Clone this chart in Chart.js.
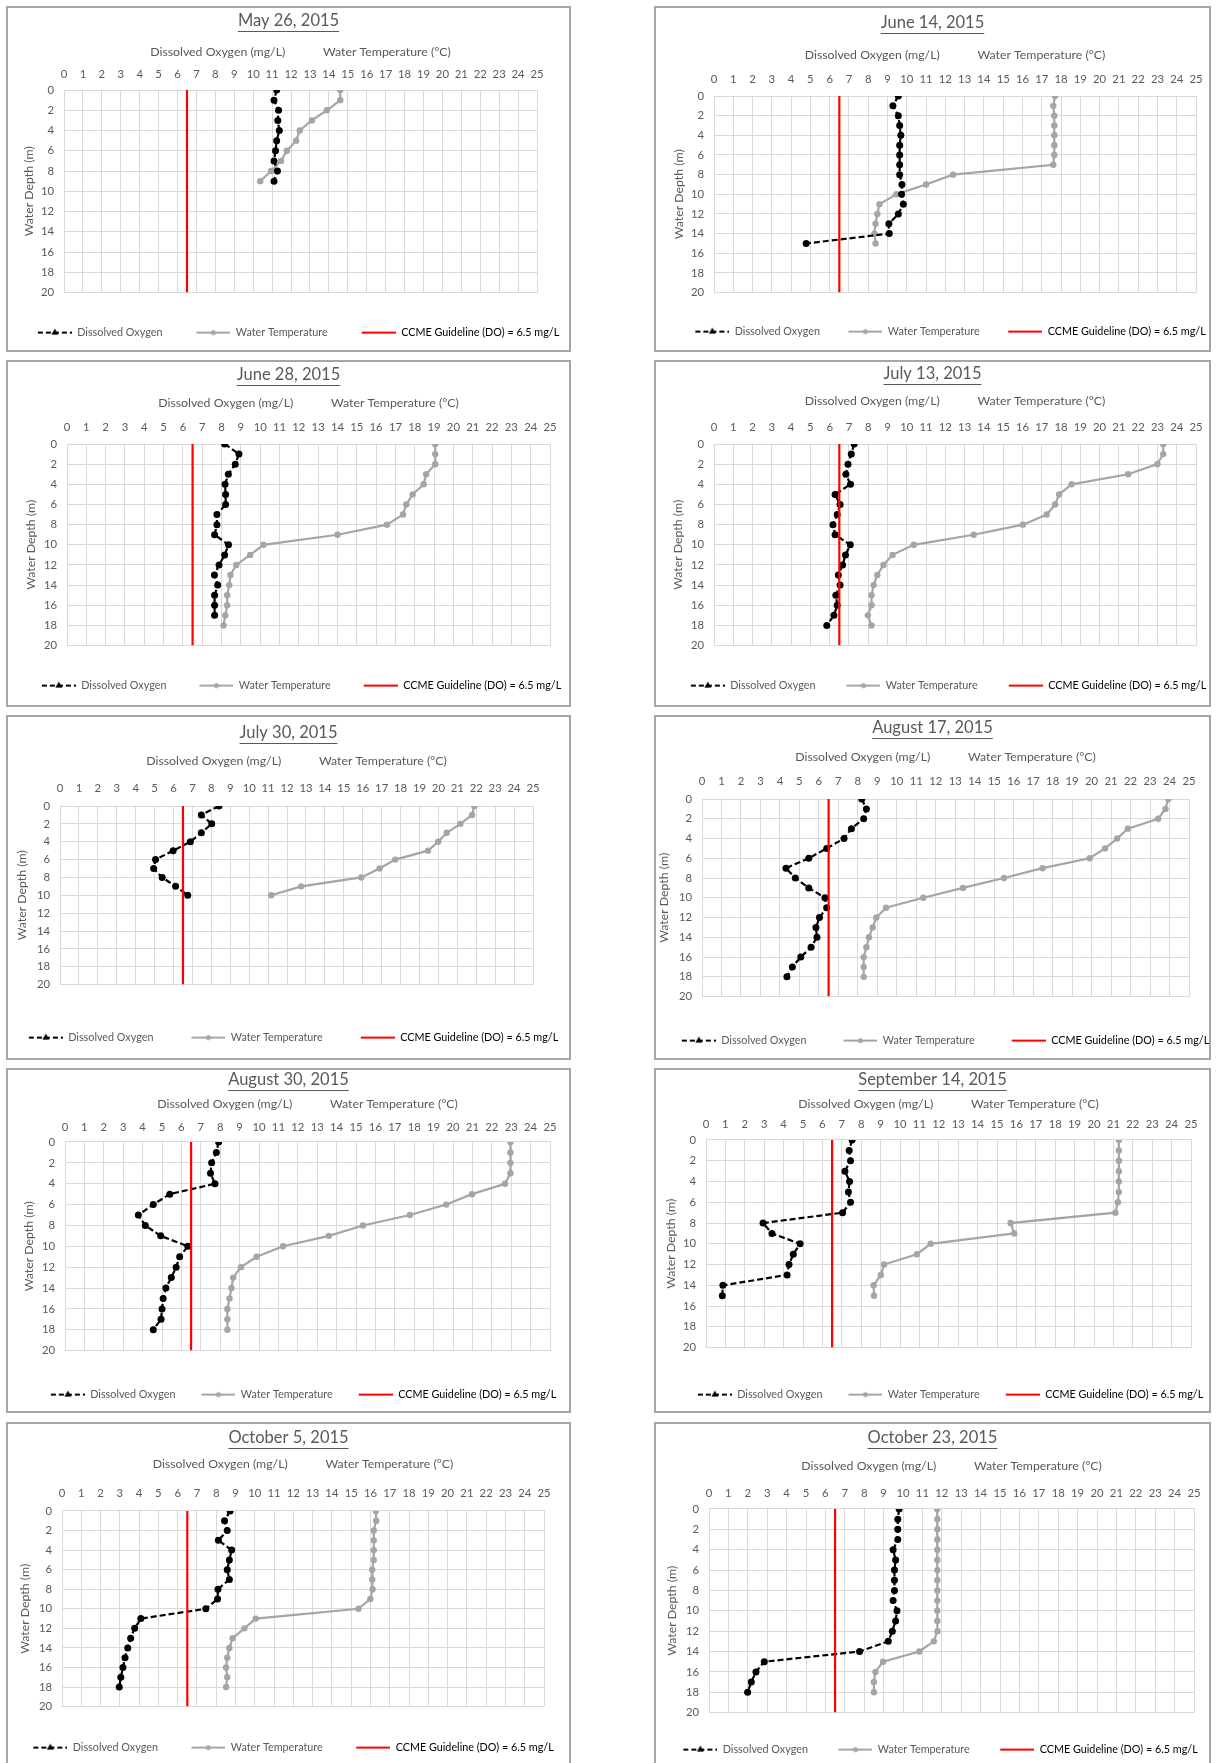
<!DOCTYPE html>
<html>
<head>
<meta charset="utf-8">
<script src="https://cdn.jsdelivr.net/npm/chart.js@4.4.1/dist/chart.umd.min.js"></script>
<style>
  html, body { margin: 0; padding: 0; background: #fff; overflow: hidden; }
  #page { position: relative; width: 1216px; height: 1763px; overflow: hidden; }
  .panel { position: absolute; border: 2px solid #a6a6a6; box-sizing: border-box; }
  canvas { position: absolute; }
</style>
</head>
<body>
<div id="page"></div>
<script>
// survey dates (one chart each)
const surveyDates = ['May 26, 2015', 'June 14, 2015', 'June 28, 2015', 'July 13, 2015', 'July 30, 2015',
  'August 17, 2015', 'August 30, 2015', 'September 14, 2015', 'October 5, 2015', 'October 23, 2015'];

const seriesNames = ['Dissolved Oxygen', 'Water Temperature', 'CCME Guideline (DO) = 6.5 mg/L'];
const ccmeGuideline = 6.5;
const depthRange = [0, 20];
const valueRange = [0, 25];

// depth (m) and readings
const may26Depth = [0, 1, 2, 3, 4, 5, 6, 7, 8, 9];
const may26DO = [11.24, 11.1, 11.34, 11.3, 11.38, 11.24, 11.18, 11.1, 11.28, 11.1];
const may26Temp = [14.6, 14.6, 13.9, 13.1, 12.46, 12.27, 11.78, 11.47, 10.95, 10.37];

const jun14Depth = [0, 1, 2, 3, 4, 5, 6, 7, 8, 9, 10, 11, 12, 13, 14, 15];
const jun14DO = [9.56, 9.28, 9.56, 9.63, 9.69, 9.63, 9.63, 9.63, 9.63, 9.75, 9.73, 9.82, 9.56, 9.07, 9.09, 4.78];
const jun14Temp = [17.69, 17.6, 17.65, 17.65, 17.65, 17.65, 17.65, 17.6, 12.4, 11.0, 9.46, 8.58, 8.47, 8.38, 8.32, 8.38];

const jun28Depth = [0, 1, 2, 3, 4, 5, 6, 7, 8, 9, 10, 11, 12, 13, 14, 15, 16, 17, 18];
const jun28DO = [8.16, 8.9, 8.71, 8.35, 8.18, 8.21, 8.21, 7.76, 7.76, 7.64, 8.36, 8.16, 7.87, 7.63, 7.8, 7.64, 7.64, 7.64];
const jun28Temp = [19.06, 19.06, 19.06, 18.59, 18.46, 17.89, 17.56, 17.39, 16.56, 14.0, 10.17, 9.48, 8.76, 8.46, 8.4, 8.29, 8.29, 8.19, 8.1];

const jul13Depth = [0, 1, 2, 3, 4, 5, 6, 7, 8, 9, 10, 11, 12, 13, 14, 15, 16, 17, 18];
const jul13DO = [7.27, 7.12, 6.95, 6.84, 7.08, 6.28, 6.54, 6.39, 6.17, 6.28, 7.07, 6.82, 6.67, 6.45, 6.54, 6.32, 6.39, 6.22, 5.85];
const jul13Temp = [23.3, 23.3, 23.0, 21.48, 18.55, 17.9, 17.69, 17.26, 16.02, 13.47, 10.36, 9.26, 8.79, 8.47, 8.28, 8.17, 8.17, 7.98, 8.17];

const jul30Depth = [0, 1, 2, 3, 4, 5, 6, 7, 8, 9, 10];
const jul30DO = [8.4, 7.47, 8.02, 7.47, 6.89, 5.98, 5.05, 4.95, 5.4, 6.11, 6.75];
const jul30Temp = [21.9, 21.78, 21.16, 20.44, 19.99, 19.45, 17.72, 16.89, 15.92, 12.75, 11.16];

const aug17Depth = [0, 1, 2, 3, 4, 5, 6, 7, 8, 9, 10, 11, 12, 13, 14, 15, 16, 17, 18];
const aug17DO = [8.2, 8.44, 8.3, 7.67, 7.29, 6.4, 5.48, 4.31, 4.79, 5.48, 6.31, 6.4, 6.03, 5.85, 5.9, 5.6, 5.07, 4.64, 4.36];
const aug17Temp = [23.94, 23.79, 23.42, 21.86, 21.31, 20.69, 19.9, 17.48, 15.5, 13.4, 11.36, 9.45, 8.95, 8.76, 8.57, 8.44, 8.3, 8.3, 8.3];

const aug30Depth = [0, 1, 2, 3, 4, 5, 6, 7, 8, 9, 10, 11, 12, 13, 14, 15, 16, 17, 18];
const aug30DO = [7.92, 7.8, 7.56, 7.5, 7.73, 5.4, 4.55, 3.78, 4.14, 4.93, 6.33, 5.91, 5.73, 5.48, 5.2, 5.06, 5.0, 4.95, 4.55];
const aug30Temp = [22.96, 22.96, 22.96, 22.96, 22.68, 20.98, 19.65, 17.78, 15.36, 13.6, 11.24, 9.88, 9.07, 8.67, 8.58, 8.48, 8.37, 8.37, 8.37];

const sep14Depth = [0, 1, 2, 3, 4, 5, 6, 7, 8, 9, 10, 11, 12, 13, 14, 15];
const sep14DO = [7.53, 7.38, 7.45, 7.16, 7.4, 7.34, 7.45, 7.04, 2.94, 3.4, 4.85, 4.5, 4.28, 4.18, 0.87, 0.84];
const sep14Temp = [21.28, 21.28, 21.28, 21.28, 21.28, 21.28, 21.23, 21.1, 15.7, 15.89, 11.58, 10.87, 9.18, 9.01, 8.64, 8.66];

const oct5Depth = [0, 1, 2, 3, 4, 5, 6, 7, 8, 9, 10, 11, 12, 13, 14, 15, 16, 17, 18];
const oct5DO = [8.72, 8.43, 8.57, 8.11, 8.8, 8.68, 8.57, 8.68, 8.09, 8.07, 7.46, 4.09, 3.77, 3.56, 3.41, 3.27, 3.16, 3.05, 2.97];
const oct5Temp = [16.28, 16.3, 16.17, 16.17, 16.17, 16.17, 16.09, 16.09, 16.11, 15.99, 15.38, 10.05, 9.46, 8.85, 8.68, 8.57, 8.51, 8.57, 8.51];

const oct23Depth = [0, 1, 2, 3, 4, 5, 6, 7, 8, 9, 10, 11, 12, 13, 14, 15, 16, 17, 18];
const oct23DO = [9.8, 9.73, 9.73, 9.73, 9.49, 9.62, 9.56, 9.56, 9.56, 9.49, 9.69, 9.62, 9.45, 9.24, 7.76, 2.85, 2.42, 2.18, 1.99];
const oct23Temp = [11.76, 11.77, 11.77, 11.77, 11.77, 11.77, 11.77, 11.77, 11.77, 11.77, 11.77, 11.77, 11.78, 11.59, 10.84, 8.97, 8.58, 8.5, 8.5];

// page layout (px): frame box, plot area [l,t,r,b], text centre lines, legend offset and spacing
const layout = [
  {box: [6, 6, 565, 346], plot: [64, 90, 537, 293], title: 21, axis: 52, ticks: 74, legend: 333, yTitle: 29, dx: 5, gap: 24},
  {box: [654, 6, 557, 346], plot: [714, 96, 1196, 293], title: 23, axis: 55, ticks: 79, legend: 332, yTitle: 679, dx: 13, gap: 18.5},
  {box: [6, 360, 565, 347], plot: [67, 444, 550, 646], title: 375, axis: 403, ticks: 427, legend: 686, yTitle: 31, dx: 8, gap: 23},
  {box: [654, 360, 557, 347], plot: [714, 444, 1196, 646], title: 374, axis: 401, ticks: 427, legend: 686, yTitle: 678, dx: 11, gap: 21},
  {box: [6, 715, 565, 345], plot: [60, 806, 533, 985], title: 733, axis: 761, ticks: 788, legend: 1038, yTitle: 22, dx: 0, gap: 28},
  {box: [654, 715, 557, 345], plot: [702, 799, 1189, 997], title: 728, axis: 757, ticks: 781, legend: 1041, yTitle: 664, dx: 8, gap: 27},
  {box: [6, 1068, 565, 345], plot: [65, 1142, 550, 1351], title: 1080, axis: 1104, ticks: 1127, legend: 1395, yTitle: 29, dx: 10, gap: 16},
  {box: [654, 1068, 557, 345], plot: [706, 1140, 1191, 1348], title: 1080, axis: 1104, ticks: 1124, legend: 1395, yTitle: 671, dx: 13, gap: 16},
  {box: [6, 1422, 565, 360], plot: [62, 1511, 544, 1707], title: 1438, axis: 1464, ticks: 1493, legend: 1748, yTitle: 25, dx: 0, gap: 23.5},
  {box: [654, 1422, 557, 360], plot: [709, 1509, 1194, 1713], title: 1438, axis: 1466, ticks: 1493, legend: 1750, yTitle: 672, dx: 3, gap: 20.5}
];

const profiles = [
  [may26Depth, may26DO, may26Temp], [jun14Depth, jun14DO, jun14Temp], [jun28Depth, jun28DO, jun28Temp],
  [jul13Depth, jul13DO, jul13Temp], [jul30Depth, jul30DO, jul30Temp], [aug17Depth, aug17DO, aug17Temp],
  [aug30Depth, aug30DO, aug30Temp], [sep14Depth, sep14DO, sep14Temp], [oct5Depth, oct5DO, oct5Temp],
  [oct23Depth, oct23DO, oct23Temp]
];

const FONT = "Lato, 'Open Sans', sans-serif";
const TEXT = '#595959';
const GRID = '#d9d9d9';
const GREY = '#a5a5a5';
const titleSize = 16.5, axisSize = 12.3, tickSize = 11.3, legendSize = 10.8;
const EXTRA = 30;      // canvas overhang each side, so the legend never wraps
const ICON_PAD = 10;   // extra blank space left of each legend sample
const ICON_W = 34;

Chart.defaults.font.family = FONT;
Chart.defaults.color = TEXT;

function legendIcon(color, dash, r, shape) {
  const c = document.createElement('canvas');
  c.width = ICON_W + ICON_PAD; c.height = 10;
  const g = c.getContext('2d');
  g.strokeStyle = color; g.lineWidth = 2;
  g.setLineDash(dash);
  g.beginPath(); g.moveTo(ICON_PAD, 5); g.lineTo(ICON_PAD + ICON_W, 5); g.stroke();
  const mx = ICON_PAD + ICON_W / 2;
  g.fillStyle = color;
  if (shape === 'tri') {
    g.beginPath(); g.moveTo(mx, 5 - r - 0.5); g.lineTo(mx + r, 5 + r * 0.6); g.lineTo(mx - r, 5 + r * 0.6); g.closePath(); g.fill();
  } else if (r) {
    g.beginPath(); g.arc(mx, 5, r, 0, Math.PI * 2); g.fill();
  }
  return c;
}
const icons = [legendIcon('#000', [5, 3], 3.5, 'tri'), legendIcon(GREY, [], 2.5), legendIcon('#ff0000', [], 0)];

const panelDecor = {
  id: 'panelDecor',
  afterLayout(chart, args, opts) {
    chart.legend.left += opts.dx;
    chart.legend.right += opts.dx;
  },
  afterDraw(chart, args, opts) {
    const ctx = chart.ctx, tb = chart.titleBlock;
    ctx.save();
    ctx.font = titleSize + 'px ' + FONT;
    const w = ctx.measureText(opts.text).width;
    const cx = (tb.left + tb.right) / 2;
    ctx.strokeStyle = TEXT; ctx.lineWidth = 1;
    ctx.beginPath();
    ctx.moveTo(cx - w / 2, Math.round(opts.y) + 0.5);
    ctx.lineTo(cx + w / 2, Math.round(opts.y) + 0.5);
    ctx.stroke();
    ctx.restore();
  }
};

const page = document.getElementById('page');

layout.forEach((g, i) => {
  const [depth, dox, temp] = profiles[i];
  const frame = document.createElement('div');
  frame.className = 'panel';
  Object.assign(frame.style, {left: g.box[0] + 'px', top: g.box[1] + 'px', width: g.box[2] + 'px', height: g.box[3] + 'px'});
  page.appendChild(frame);

  const cx = g.box[0] - EXTRA, cy = g.box[1], cw = g.box[2] + 2 * EXTRA;
  const tLH = titleSize * 1.2;
  const titlePad = g.title - cy - tLH / 2;
  const scaleTop = g.title + tLH / 2;
  const xH = g.plot[1] - scaleTop;
  const axisPad = g.axis - scaleTop - axisSize * 1.2 / 2;
  const tickPad = g.plot[1] - g.ticks - tickSize * 1.2 / 2;
  const legTitleH = Math.max(1.2, g.legend - g.plot[3] - g.gap - legendSize / 2);
  const legH = legTitleH + legendSize + g.gap + 10;
  const ch = Math.round(g.plot[3] - cy + legH);
  const yW = g.plot[0] - cx;
  const rW = cx + cw - g.plot[2];
  const yTitlePad = g.yTitle - cx - axisSize * 1.2 / 2;

  const canvas = document.createElement('canvas');
  canvas.width = cw; canvas.height = ch;
  canvas.style.left = cx + 'px'; canvas.style.top = cy + 'px';
  canvas.style.width = cw + 'px'; canvas.style.height = ch + 'px';
  page.appendChild(canvas);

  new Chart(canvas, {
    type: 'scatter',
    data: {
      datasets: [
        {
          label: seriesNames[0],
          data: dox.map((v, k) => ({x: v, y: depth[k]})),
          showLine: true, borderColor: '#000', backgroundColor: '#000', borderWidth: 2.2, borderDash: [6, 3],
          pointRadius: 3.5, pointBorderWidth: 0, pointBackgroundColor: '#000', order: 1
        },
        {
          label: seriesNames[1],
          data: temp.map((v, k) => ({x: v, y: depth[k]})),
          showLine: true, borderColor: GREY, backgroundColor: GREY, borderWidth: 2.2,
          pointRadius: 3.2, pointBorderWidth: 0, pointBackgroundColor: GREY, order: 2
        },
        {
          label: seriesNames[2],
          data: depthRange.map(d => ({x: ccmeGuideline, y: d})),
          showLine: true, borderColor: '#ff0000', borderWidth: 2.2, pointRadius: 0, order: 0
        }
      ]
    },
    options: {
      responsive: false,
      animation: false,
      devicePixelRatio: 1,
      events: [],
      layout: {padding: 0, autoPadding: false},
      scales: {
        x: {
          type: 'linear', position: 'top', min: valueRange[0], max: valueRange[1],
          ticks: {stepSize: 1, autoSkip: false, maxRotation: 0, padding: tickPad, font: {size: tickSize}, color: TEXT},
          grid: {color: GRID, drawTicks: false},
          border: {color: GRID},
          title: {display: true, text: 'Dissolved Oxygen (mg/L)            Water Temperature (°C)',
                  font: {size: axisSize}, color: TEXT, padding: {top: axisPad, bottom: 0}},
          afterFit(s) { s.height = xH; }
        },
        y: {
          type: 'linear', position: 'left', reverse: true, min: depthRange[0], max: depthRange[1],
          ticks: {stepSize: 2, padding: 10, font: {size: tickSize}, color: TEXT},
          grid: {color: GRID, drawTicks: false},
          border: {color: GRID},
          title: {display: true, text: 'Water Depth (m)', font: {size: axisSize}, color: TEXT,
                  padding: {top: yTitlePad, bottom: 0}},
          afterFit(s) { s.width = yW; }
        },
        yRight: {
          position: 'right', display: true,
          ticks: {display: false}, grid: {display: false, drawTicks: false}, border: {display: false},
          afterFit(s) { s.width = rW; }
        }
      },
      plugins: {
        title: {display: true, text: surveyDates[i], color: TEXT,
                font: {size: titleSize, weight: 'normal'}, padding: {top: titlePad, bottom: 0}},
        legend: {
          position: 'bottom',
          title: {display: true, text: '', font: {size: 1}, padding: {top: legTitleH - 1.2, bottom: 0}},
          labels: {
            usePointStyle: true, pointStyleWidth: ICON_W + ICON_PAD, padding: g.gap,
            font: {size: legendSize}, color: TEXT,
            generateLabels: () => seriesNames.map((t, k) => ({
              text: t, pointStyle: icons[k], fillStyle: 'rgba(0,0,0,0)', strokeStyle: 'rgba(0,0,0,0)',
              lineWidth: 0, hidden: false, datasetIndex: k, fontColor: k === 2 ? '#000' : TEXT
            }))
          }
        },
        tooltip: {enabled: false},
        panelDecor: {dx: g.dx, text: surveyDates[i], y: g.title - cy + titleSize * 0.58}
      }
    },
    plugins: [panelDecor]
  });
});
</script>
</body>
</html>
